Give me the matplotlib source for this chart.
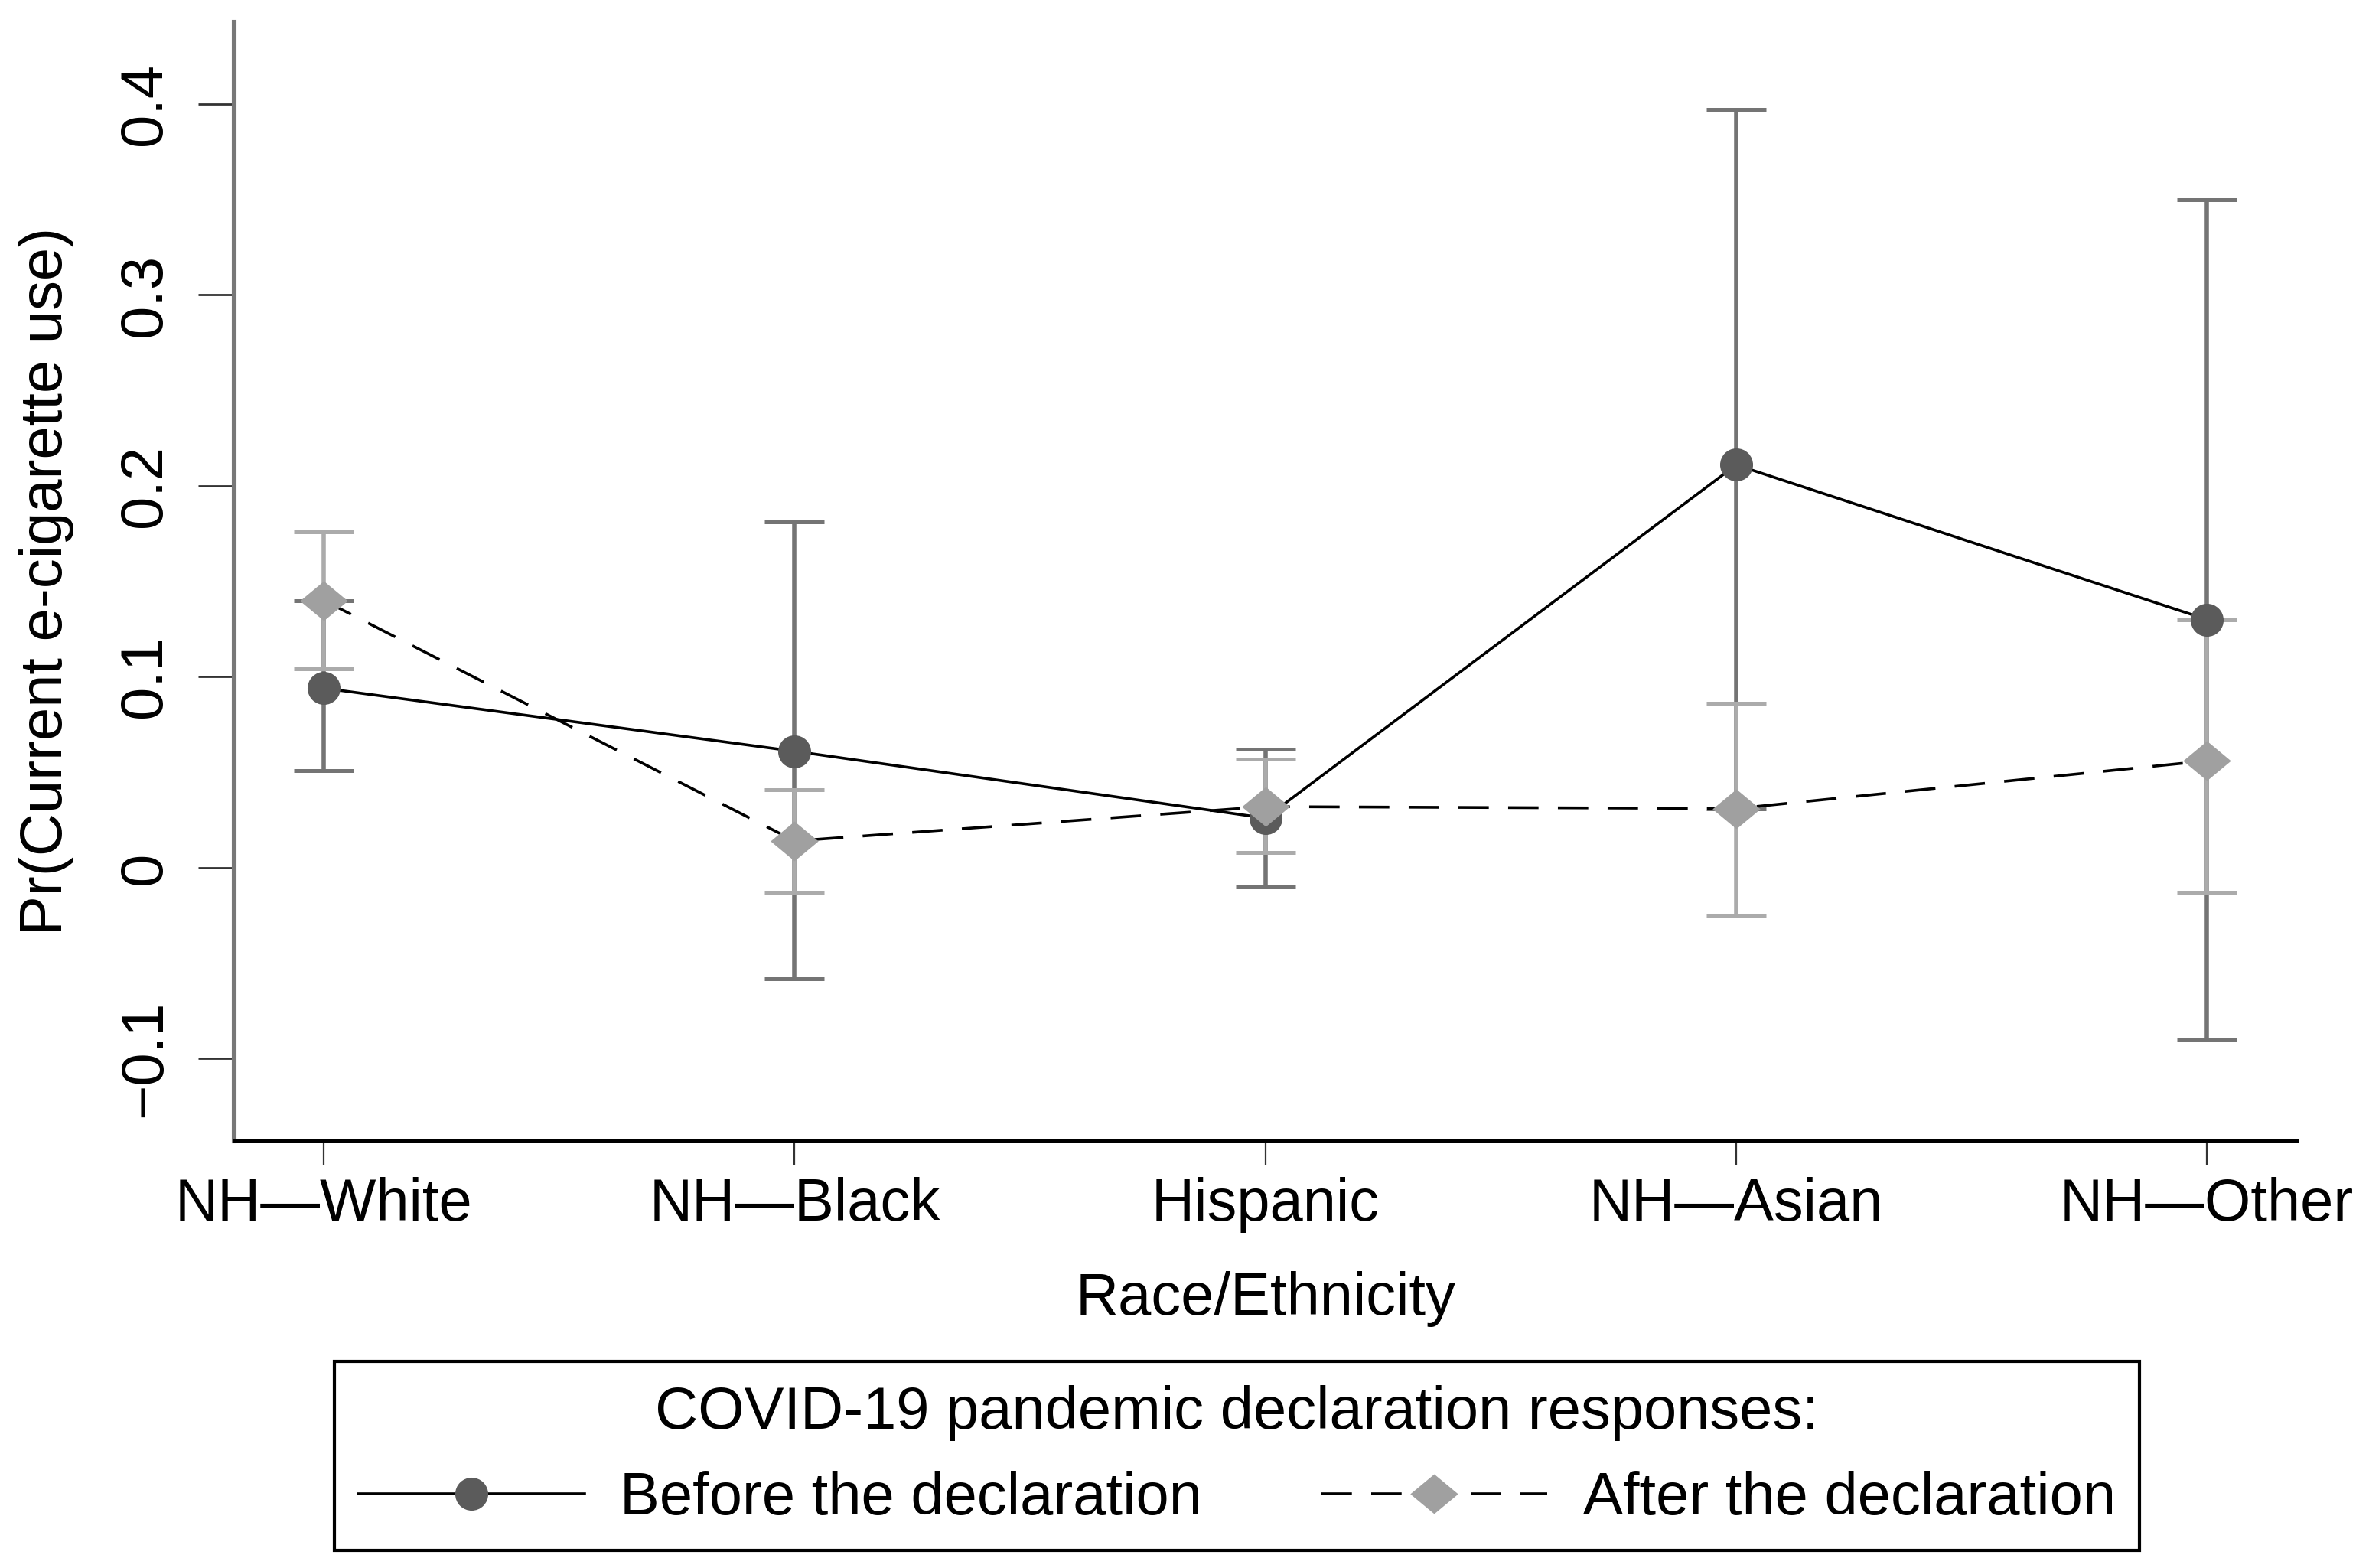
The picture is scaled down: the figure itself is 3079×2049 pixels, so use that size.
import numpy as np
import matplotlib.pyplot as plt
from matplotlib.lines import Line2D

plt.rcParams['font.family'] = ['Liberation Sans', 'DejaVu Sans']

# --- Data ---
groups = ["NH\u2014White", "NH\u2014Black", "Hispanic", "NH\u2014Asian", "NH\u2014Other"]
before = [0.094, 0.061, 0.026, 0.211, 0.130]
before_lo = [0.051, -0.058, -0.010, 0.031, -0.090]
before_hi = [0.140, 0.181, 0.062, 0.397, 0.350]
after = [0.140, 0.014, 0.032, 0.031, 0.056]
after_lo = [0.104, -0.013, 0.008, -0.025, -0.013]
after_hi = [0.176, 0.041, 0.057, 0.086, 0.130]
yticks = [-0.1, 0, 0.1, 0.2, 0.3, 0.4]
ytick_labels = ["\u22120.1", "0", "0.1", "0.2", "0.3", "0.4"]

x = np.arange(len(groups))
before = np.array(before)
after = np.array(after)
b_err = [before - np.array(before_lo), np.array(before_hi) - before]
a_err = [after - np.array(after_lo), np.array(after_hi) - after]

# Stata-style diamond, a bit wider than tall
diamond = [(-1, 0), (0, 0.83), (1, 0), (0, -0.83), (-1, 0)]
dash = (11, 7)

fig = plt.figure(figsize=(3079 / 200, 2049 / 200), dpi=200)
ax = fig.add_axes([0.0995, 0.2725, 0.8752, 0.7135])

# confidence intervals
ax.errorbar(x, before, yerr=b_err, fmt="none", ecolor="#747474",
            elinewidth=2.0, capsize=14, capthick=1.8, zorder=2)
ax.errorbar(x, after, yerr=a_err, fmt="none", ecolor="#ababab",
            elinewidth=2.0, capsize=14, capthick=1.8, zorder=3)

# point estimates connected
ax.plot(x, before, color="black", lw=1.3, zorder=4)
ax.plot(x, before, "o", color="#5b5b5b", ms=15.5, mec="none", zorder=5)
ax.plot(x, after, color="black", lw=1.3, dashes=dash, zorder=6)
ax.plot(x, after, marker=diamond, ls="none", color="#a0a0a0", ms=22.5,
        mec="none", zorder=7)

ax.set_xlim(-0.19, 4.19)
ax.set_ylim(-0.143, 0.443)
ax.set_xticks(x)
ax.set_xticklabels(groups, fontsize=28)
ax.set_yticks(yticks)
ax.set_yticklabels(ytick_labels, fontsize=28, rotation=90, va="center")

ax.spines["top"].set_visible(False)
ax.spines["right"].set_visible(False)
ax.spines["left"].set_color("#777777")
ax.spines["left"].set_linewidth(2.2)
ax.spines["bottom"].set_color("black")
ax.spines["bottom"].set_linewidth(1.8)
ax.tick_params(axis="y", length=17, width=1.0, pad=12, color="#333333")
ax.tick_params(axis="x", length=11, width=0.8, pad=6, color="#333333")

ax.set_xlabel("Race/Ethnicity", fontsize=28, labelpad=18)
ax.set_ylabel("Pr(Current e-cigarette use)", fontsize=28, labelpad=20)

handles = [
    Line2D([], [], color="black", lw=1.3, marker="o", ms=15.5,
           mfc="#5b5b5b", mec="none"),
    Line2D([], [], color="black", lw=1.3, dashes=dash, marker=diamond,
           ms=22.5, mfc="#a0a0a0", mec="none"),
]
leg = fig.legend(handles, ["Before the declaration", "After the declaration"],
                 title="COVID-19 pandemic declaration responses:",
                 loc="center", bbox_to_anchor=(0.525, 0.0713), ncol=2,
                 fontsize=28, title_fontsize=28, handlelength=3.8,
                 handletextpad=0.6, columnspacing=2.0, borderpad=0.4,
                 fancybox=False, edgecolor="black", framealpha=1)
leg.get_frame().set_linewidth(1.5)

fig.savefig("out.png", dpi=200)
